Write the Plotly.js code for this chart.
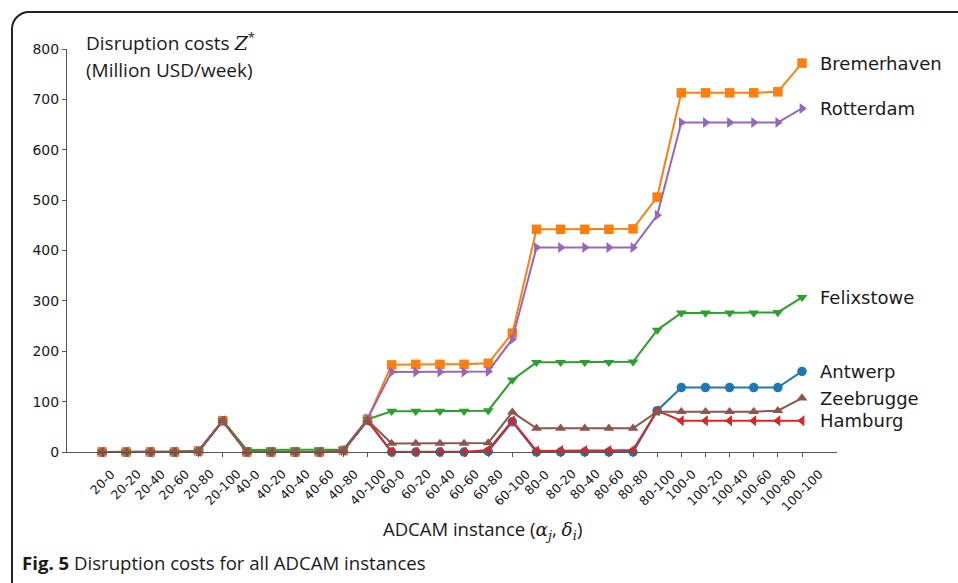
<!DOCTYPE html>
<html>
<head>
<meta charset="utf-8">
<script src="https://cdn.plot.ly/plotly-3.0.1.min.js"></script>
<style>
  html, body { margin: 0; padding: 0; background: #fff; overflow: hidden; }
  #wrap { position: relative; width: 958px; height: 583px; }
  #chart { position: absolute; left: 0; top: 0; width: 958px; height: 583px; }
  #frame { position: absolute; left: 11px; top: 11px; width: 1000px; height: 700px;
           border: 2px solid #222; border-radius: 18px; pointer-events: none; box-sizing: border-box; }
</style>
</head>
<body>
<div id="wrap">
  <div id="chart"></div>
  <div id="frame"></div>
</div>
<script>
const categories = ["20-0","20-20","20-40","20-60","20-80","20-100",
  "40-0","40-20","40-40","40-60","40-80","40-100",
  "60-0","60-20","60-40","60-60","60-80","60-100",
  "80-0","80-20","80-40","80-60","80-80","80-100",
  "100-0","100-20","100-40","100-60","100-80","100-100"];

const antwerp     = [0,0,0,0,1,62, 0,0,0,0,3,63, 0,0,0,0,1,60, 0,0,0,0,0,82, 128,128,128,128,128,160];
const bremerhaven = [0,0,0,0,2,62, 0,0,0,0,3,65, 173,174,174,174,176,236, 442,442,442,442,443,506, 713,713,713,713,715,772];
const felixstowe  = [0,0,0,0,2,63, 4,4,4,4,5,65, 81,81,81,81,82,143, 178,178,178,178,179,242, 276,276,276,276,277,307];
const hamburg     = [0,0,0,0,1,62, 0,0,0,0,3,62, 0,0,0,0,4,62, 2,3,3,3,4,82, 62,62,62,62,62,62];
const rotterdam   = [0,0,0,0,2,62, 0,0,0,0,3,66, 159,159,159,159,160,224, 406,406,406,406,406,470, 654,654,654,654,654,682];
const zeebrugge   = [0,0,0,0,2,62, 0,0,0,0,3,63, 17,17,17,17,18,79, 47,47,47,47,47,80, 80,80,80,80,82,107];

const seriesNames = ["Antwerp","Bremerhaven","Felixstowe","Hamburg","Rotterdam","Zeebrugge"];
const seriesData = [antwerp, bremerhaven, felixstowe, hamburg, rotterdam, zeebrugge];
const colors = ["#1f77b4","#ff7f0e","#2ca02c","#d62728","#9467bd","#8c564b"];
const symbols = ["circle","square","triangle-down","triangle-left","triangle-right","triangle-up"];

const traces = seriesNames.map((n, i) => ({
  type: "scatter", mode: "lines+markers", name: n,
  x: categories, y: seriesData[i],
  line: {color: colors[i], width: 2},
  marker: {color: colors[i], symbol: symbols[i], size: 9.5},
  cliponaxis: false
}));

const annotations = [];
// rotated, centred tick labels (matplotlib style)
categories.forEach(c => {
  annotations.push({
    x: c, y: 0, xref: "x", yref: "y", text: c, showarrow: false,
    textangle: -45, xanchor: "center", yanchor: "top", yshift: -12,
    font: {family: "DejaVu Sans", size: 12.5, color: "#1a1a1a"}
  });
});
// series labels at the end of each line
seriesNames.forEach((n, i) => {
  const d = seriesData[i];
  annotations.push({
    x: categories[categories.length - 1], y: d[d.length - 1], xref: "x", yref: "y",
    text: n, showarrow: false, xanchor: "left", yanchor: "middle", xshift: 16,
    font: {family: "DejaVu Sans", size: 18, color: "#1a1a1a"}
  });
});
// y-axis title (inside top-left)
annotations.push({
  xref: "paper", yref: "paper", x: 0.022, y: 1.017, xanchor: "left", yanchor: "middle",
  text: "Disruption costs <span style=\"font-family:'DejaVu Serif';font-style:italic\">Z</span><sup>*</sup>",
  showarrow: false, font: {family: "Open Sans", size: 19, color: "#1a1a1a"}
});
annotations.push({
  xref: "paper", yref: "paper", x: 0.022, y: 0.948, xanchor: "left", yanchor: "middle",
  text: "(Million USD/week)", showarrow: false,
  font: {family: "Open Sans", size: 19, color: "#1a1a1a"}
});
// x-axis title
annotations.push({
  xref: "paper", yref: "paper", x: 0.539, y: -0.1935, xanchor: "center", yanchor: "middle",
  text: "ADCAM instance (<span style=\"font-family:'DejaVu Serif';font-style:italic\">α<sub>j</sub></span>, <span style=\"font-family:'DejaVu Serif';font-style:italic\">δ<sub>i</sub></span>)",
  showarrow: false, font: {family: "Open Sans", size: 18.5, color: "#1a1a1a"}
});
// caption
annotations.push({
  xref: "paper", yref: "paper", x: -0.061, y: -0.275, xanchor: "left", yanchor: "middle",
  text: "<b>Fig. 5</b> Disruption costs for all ADCAM instances", showarrow: false,
  font: {family: "Open Sans", size: 18.6, color: "#1a1a1a"}
});

const layout = {
  width: 958, height: 583,
  margin: {l: 67, r: 121, t: 49, b: 131},
  paper_bgcolor: "#fff", plot_bgcolor: "#fff",
  showlegend: false,
  xaxis: {
    type: "category", range: [-1.45, 30.45], dtick: 1,
    showgrid: false, zeroline: false, showline: true, linecolor: "#555", linewidth: 1,
    ticks: "outside", ticklen: 4, tickcolor: "#555", showticklabels: false
  },
  yaxis: {
    range: [0, 800], dtick: 100, showgrid: false, zeroline: false,
    showline: true, linecolor: "#555", linewidth: 1,
    ticks: "outside", ticklen: 4, tickcolor: "#555",
    tickfont: {family: "DejaVu Sans", size: 14, color: "#1a1a1a"}
  },
  annotations: annotations
};

Plotly.newPlot("chart", traces, layout, {displayModeBar: false, staticPlot: true});
</script>
</body>
</html>
